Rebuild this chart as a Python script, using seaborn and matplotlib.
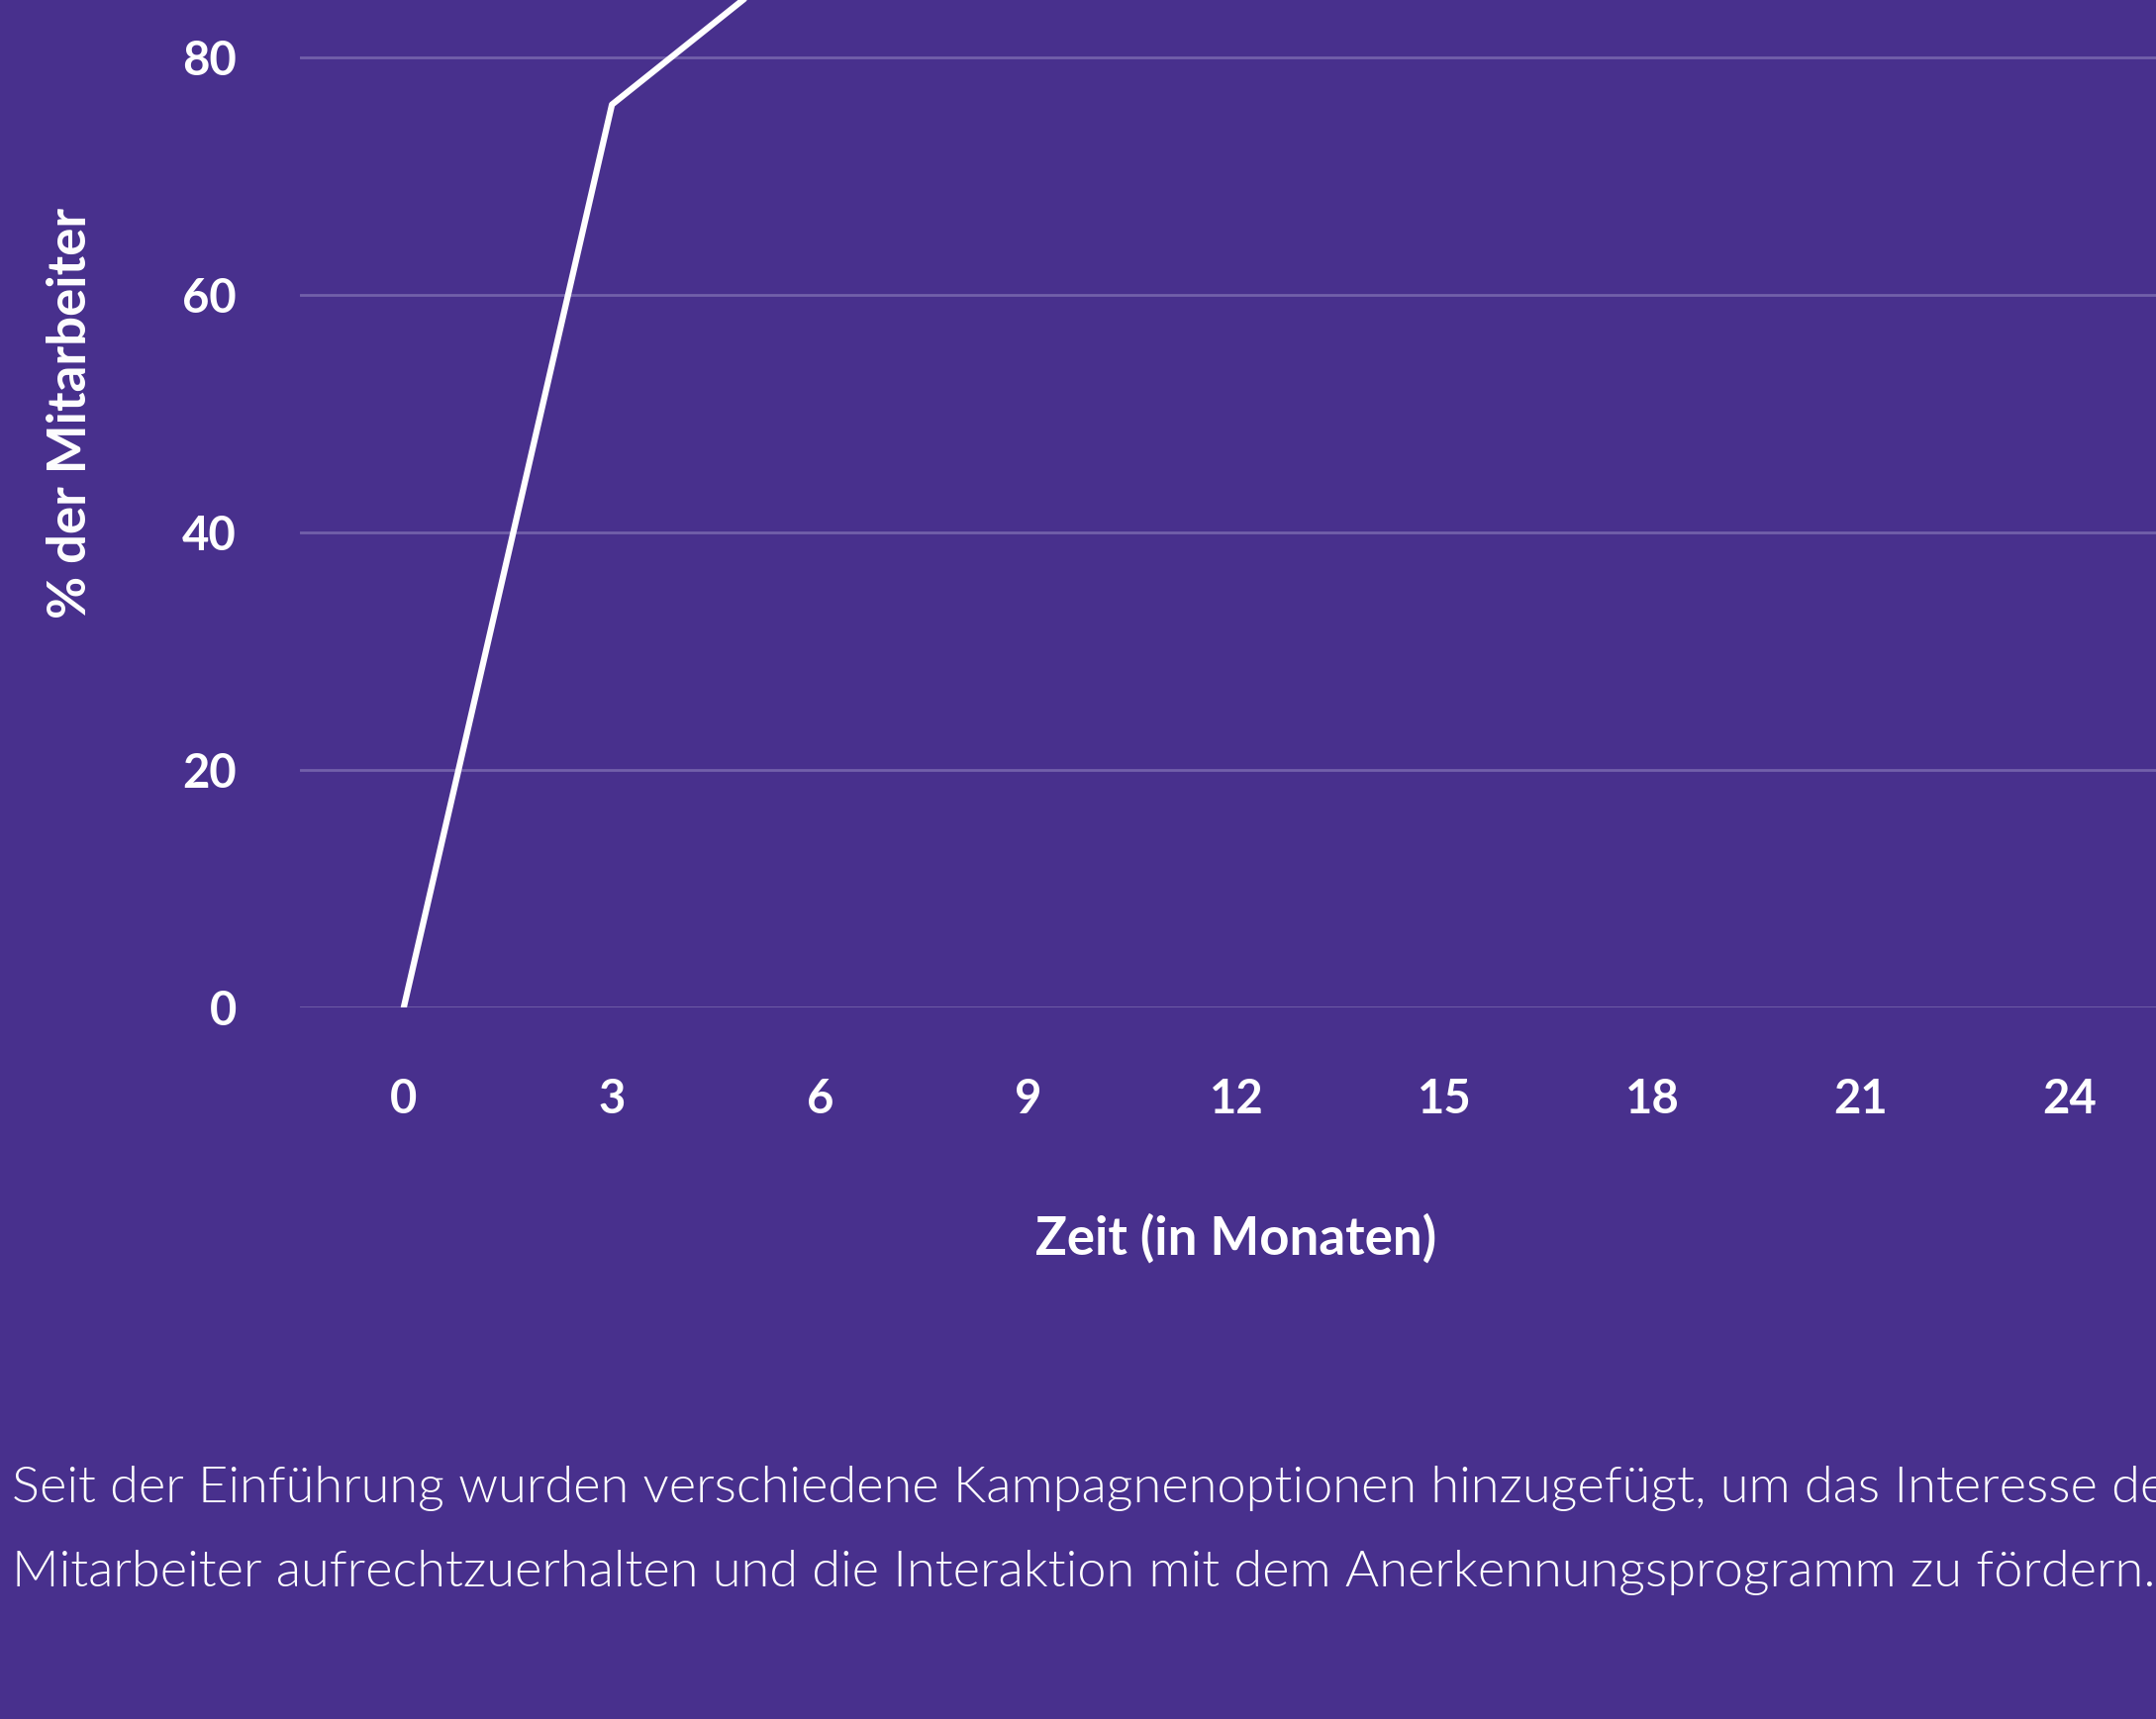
import matplotlib
matplotlib.use("Agg")
import matplotlib.pyplot as plt
import seaborn as sns
import pandas as pd

# Daten
monate = [0, 3, 6]
prozent = [0, 76, 90]
x_ticks = [0, 3, 6, 9, 12, 15, 18, 21, 24]
y_ticks = [0, 20, 40, 60, 80, 100]
caption = ("Seit der Einführung wurden verschiedene Kampagnenoptionen hinzugefügt, um das Interesse der\n"
           "Mitarbeiter aufrechtzuerhalten und die Interaktion mit dem Anerkennungsprogramm zu fördern.")

df = pd.DataFrame({"Monat": monate, "Prozent": prozent})

bg = "#48308D"
grid_col = "#7260AA"

sns.set_style("white")
plt.rcParams["font.family"] = ["Lato", "DejaVu Sans"]

fig = plt.figure(figsize=(21.78, 17.37), dpi=100, facecolor=bg)
# Achse ragt oben und rechts über das Bild hinaus (Ausschnitt wie im Original)
ax = fig.add_axes([0.139, 0.414, 0.869, 0.691])
ax.set_facecolor(bg)

for y in y_ticks:
    ax.axhline(y, color=grid_col, linewidth=2, zorder=1)

sns.lineplot(data=df, x="Monat", y="Prozent", ax=ax, color="white", linewidth=4.5, zorder=3)

ax.set_xlim(-1.5, 25.5)
ax.set_ylim(0, 100)
ax.set_xticks(x_ticks)
ax.set_yticks(y_ticks)
for s in ax.spines.values():
    s.set_visible(False)
ax.tick_params(axis="both", length=0, colors="white", labelsize=34)
ax.tick_params(axis="x", pad=51)
ax.tick_params(axis="y", pad=46)
for lab in ax.get_xticklabels() + ax.get_yticklabels():
    lab.set_fontweight("bold")

ax.set_xlabel("Zeit (in Monaten)", color="white", fontsize=38, fontweight="bold", labelpad=67)
ax.set_ylabel("% der Mitarbeiter", color="white", fontsize=38, fontweight="bold", labelpad=44)

fig.text(0.0055, 0.072, caption, color="white", fontsize=37.7, fontweight=300,
         ha="left", va="bottom", linespacing=2.05)

fig.savefig("out.png", dpi=100, facecolor=bg)
